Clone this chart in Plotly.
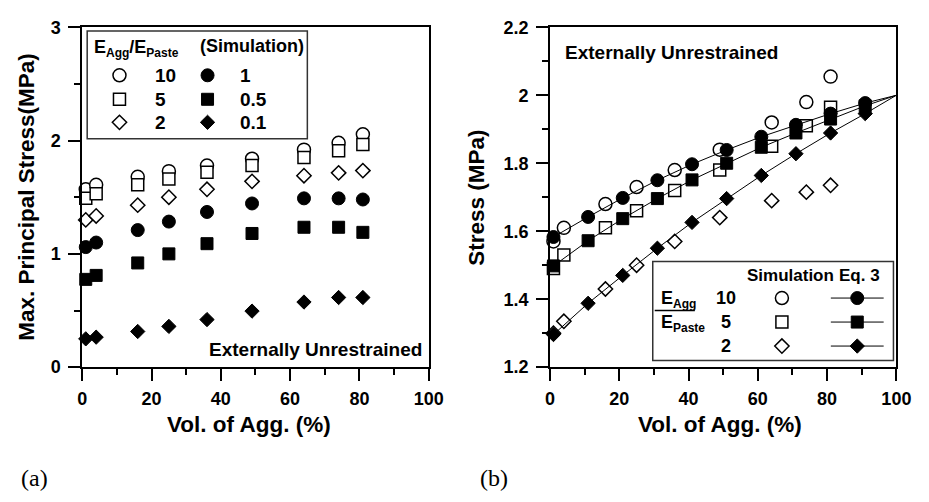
import plotly.graph_objects as go

# ---------------- data ----------------
vol_sim = [1, 4, 16, 25, 36, 49, 64, 74, 81]
sim_10 = [1.57, 1.61, 1.68, 1.73, 1.78, 1.84, 1.92, 1.98, 2.055]
sim_5 = [1.49, 1.53, 1.61, 1.66, 1.72, 1.78, 1.85, 1.91, 1.965]
sim_2 = [1.30, 1.335, 1.43, 1.50, 1.57, 1.64, 1.69, 1.715, 1.735]
sim_1 = [1.06, 1.10, 1.21, 1.285, 1.37, 1.445, 1.49, 1.49, 1.48]
sim_05 = [0.775, 0.81, 0.92, 1.00, 1.09, 1.18, 1.235, 1.235, 1.19]
sim_01 = [0.25, 0.265, 0.315, 0.36, 0.42, 0.495, 0.575, 0.615, 0.615]

vol_eq = [1, 11, 21, 31, 41, 51, 61, 71, 81, 91, 100]
eq_10 = [1.583, 1.642, 1.698, 1.750, 1.797, 1.839, 1.878, 1.913, 1.946, 1.977, 2.0]
eq_5 = [1.498, 1.572, 1.637, 1.696, 1.751, 1.800, 1.847, 1.889, 1.930, 1.969, 2.0]
eq_2 = [1.296, 1.388, 1.470, 1.550, 1.626, 1.696, 1.764, 1.828, 1.889, 1.946, 2.0]

ratio_left_open = ["10", "5", "2"]
ratio_left_filled = ["1", "0.5", "0.1"]
ratio_right = ["10", "5", "2"]

# ---------------- styles ----------------
FONT = "Liberation Sans"
SERIF = "Liberation Serif"
W, H = 929, 502
SYM = {"c": ("circle", 13), "s": ("square", 12), "d": ("diamond", 11)}


def mk(sym, filled):
    s, size = SYM[sym]
    return dict(symbol=s, size=size,
                color="black" if filled else "white",
                line=dict(color="black", width=1 if filled else 1.5))


def sub(t):
    return "<sub><span style='font-size:12px'>" + t + "</span></sub>"


fig = go.Figure()

# ---------- left panel ----------
left_series = [(sim_10, "c", False), (sim_5, "s", False), (sim_2, "d", False),
               (sim_1, "c", True), (sim_05, "s", True), (sim_01, "d", True)]
for ys, sym, filled in left_series:
    fig.add_trace(go.Scatter(x=vol_sim, y=ys, mode="markers", marker=mk(sym, filled),
                             xaxis="x", yaxis="y", showlegend=False, cliponaxis=False))

# ---------- right panel ----------
for ys, sym in [(sim_10, "c"), (sim_5, "s"), (sim_2, "d")]:
    fig.add_trace(go.Scatter(x=vol_sim, y=ys, mode="markers", marker=mk(sym, False),
                             xaxis="x2", yaxis="y2", showlegend=False, cliponaxis=False))
for ys, sym in [(eq_10, "c"), (eq_5, "s"), (eq_2, "d")]:
    fig.add_trace(go.Scatter(x=vol_eq, y=ys, mode="lines", line=dict(color="black", width=1),
                             xaxis="x2", yaxis="y2", showlegend=False, cliponaxis=False))
    fig.add_trace(go.Scatter(x=vol_eq[:-1], y=ys[:-1], mode="markers", marker=mk(sym, True),
                             xaxis="x2", yaxis="y2", showlegend=False, cliponaxis=False))

# ---------- legend keys on a pixel-space overlay axis ----------
L_ROWS = [68, 93, 117]
for i, sym in enumerate(["c", "s", "d"]):
    fig.add_trace(go.Scatter(x=[117], y=[L_ROWS[i]], mode="markers", marker=mk(sym, False),
                             xaxis="x3", yaxis="y3", showlegend=False, hoverinfo="skip"))
    fig.add_trace(go.Scatter(x=[207], y=[L_ROWS[i]], mode="markers", marker=mk(sym, True),
                             xaxis="x3", yaxis="y3", showlegend=False, hoverinfo="skip"))
R_ROWS = [300, 325, 350]
for i, sym in enumerate(["c", "s", "d"]):
    fig.add_trace(go.Scatter(x=[794], y=[R_ROWS[i]], mode="markers", marker=mk(sym, False),
                             xaxis="x3", yaxis="y3", showlegend=False, hoverinfo="skip"))
    fig.add_trace(go.Scatter(x=[844, 898], y=[R_ROWS[i]] * 2, mode="lines",
                             line=dict(color="black", width=1),
                             xaxis="x3", yaxis="y3", showlegend=False, hoverinfo="skip"))
    fig.add_trace(go.Scatter(x=[871], y=[R_ROWS[i]], mode="markers", marker=mk(sym, True),
                             xaxis="x3", yaxis="y3", showlegend=False, hoverinfo="skip"))

annotations = []


def txt(x, y, t, size=18, xanchor="left", yanchor="middle", angle=0, family=FONT, bold=True):
    annotations.append(dict(x=x, y=y, xref="x3", yref="y3", text=t, showarrow=False,
                            xanchor=xanchor, yanchor=yanchor, textangle=angle,
                            font=dict(family=family, size=size, color="black",
                                      weight="bold" if bold else "normal")))


# left legend text
txt(89, 40, "E" + sub("Agg") + "/E" + sub("Paste"), 18)
txt(197, 37, "(Simulation)", 18)
for i in range(3):
    txt(151, L_ROWS[i], ratio_left_open[i], 19)
    txt(238, L_ROWS[i], ratio_left_filled[i], 19)

# right legend text
txt(756, 276, "Simulation", 17)
txt(850, 276, "Eq. 3", 17)
for i in range(3):
    txt(737, R_ROWS[i], ratio_right[i], 18, xanchor="center")
txt(668, 302, "E" + sub("Agg"), 18)
txt(668, 327, "E" + sub("Paste"), 18)

# panel notes
txt(428, 354, "Externally Unrestrained", 19, xanchor="right")
txt(570, 44, "Externally Unrestrained", 19)

# axis titles
txt(22, 195, "Max. Principal Stress(MPa)", 22.5, xanchor="center", angle=-90)
txt(482, 196, "Stress (MPa)", 22.5, xanchor="center", angle=-90)
txt(249, 432, "Vol. of Agg. (%)", 22.5, xanchor="center")
txt(731, 432, "Vol. of Agg. (%)", 22.5, xanchor="center")

# panel labels
txt(30, 487, "(a)", 24, xanchor="center", family=SERIF, bold=False)
txt(500, 487, "(b)", 24, xanchor="center", family=SERIF, bold=False)

shapes = [
    dict(type="rect", xref="x3", yref="y3", x0=84, x1=309, y0=22, y1=134,
         line=dict(color="#333333", width=1.5)),
    dict(type="rect", xref="x3", yref="y3", x0=662, x1=908, y0=262, y1=365,
         line=dict(color="#333333", width=1.5)),
    dict(type="line", xref="x3", yref="y3", x0=664, x1=705, y0=313, y1=313,
         line=dict(color="black", width=1.5)),
]

tickfont = dict(family=FONT, size=18, color="black", weight="bold")
common_x = dict(range=[0, 100], dtick=20, ticks="outside", ticklen=12, tickwidth=2,
                tickcolor="black", showline=True, linewidth=2, linecolor="black", mirror=True,
                showgrid=False, zeroline=False, tickfont=tickfont, ticklabelstandoff=2,
                minor=dict(dtick=10, ticks="outside", ticklen=6, tickwidth=2, tickcolor="black"))
common_y = dict(ticks="outside", ticklen=12, tickwidth=2, tickcolor="black",
                showline=True, linewidth=2, linecolor="black", mirror=True,
                showgrid=False, zeroline=False, tickfont=tickfont, ticklabelstandoff=4)

fig.update_layout(
    width=W, height=H,
    margin=dict(l=0, r=0, t=0, b=0),
    paper_bgcolor="white", plot_bgcolor="rgba(0,0,0,0)",
    showlegend=False,
    xaxis=dict(domain=[79 / W, 433 / W], anchor="y", **common_x),
    yaxis=dict(domain=[1 - 372 / H, 1 - 18 / H], anchor="x", range=[0, 3], dtick=1,
               minor=dict(dtick=0.5, ticks="outside", ticklen=6, tickwidth=2, tickcolor="black"),
               **common_y),
    xaxis2=dict(domain=[557 / W, 911 / W], anchor="y2", **common_x),
    yaxis2=dict(domain=[1 - 372 / H, 1 - 18 / H], anchor="x2", range=[1.2, 2.2], dtick=0.2,
                tickformat="~g",
                minor=dict(dtick=0.1, ticks="outside", ticklen=6, tickwidth=2, tickcolor="black"),
                **common_y),
    xaxis3=dict(domain=[0, 1], anchor="y3", range=[0, W], visible=False, fixedrange=True),
    yaxis3=dict(domain=[0, 1], anchor="x3", range=[H, 0], visible=False, fixedrange=True),
    annotations=annotations,
    shapes=shapes,
)

fig.write_html("out.html")
